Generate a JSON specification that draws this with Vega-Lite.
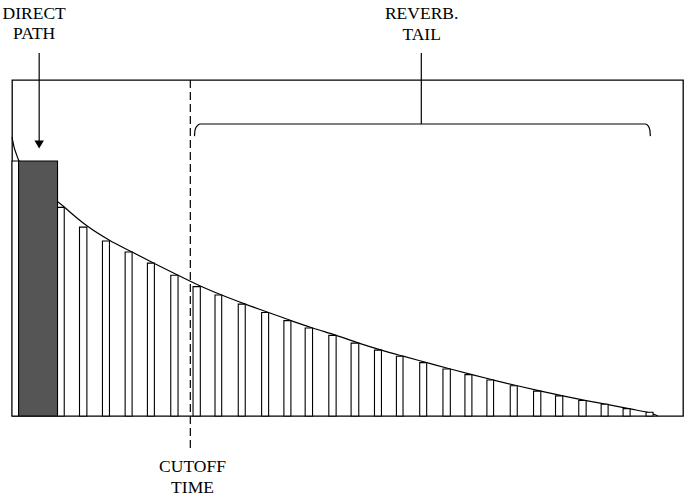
{
  "$schema": "https://vega.github.io/schema/vega-lite/v6.json",
  "width": 671,
  "height": 336,
  "autosize": {"type": "none"},
  "padding": {"left": 12, "top": 80, "right": 4, "bottom": 81},
  "background": "white",
  "config": {"view": {"stroke": "#000000", "strokeWidth": 1.3}},
  "encoding": {
    "x": {"field": "t", "type": "quantitative", "scale": {"domain": [0, 200], "nice": false, "zero": false}, "axis": null},
    "y": {"field": "a", "type": "quantitative", "scale": {"domain": [0, 100], "nice": false, "zero": false}, "axis": null}
  },
  "layer": [
    {
      "data": {"values": [
        {"t": 0, "a": 83.0}, {"t": 0.68, "a": 79.8}, {"t": 1.28, "a": 78.0}, {"t": 1.96, "a": 76.2},
        {"t": 15.57, "a": 62.2},
        {"t": 22.32, "a": 56.6}, {"t": 29.05, "a": 52.3}, {"t": 35.8, "a": 48.8}, {"t": 42.44, "a": 45.4},
        {"t": 49.49, "a": 41.9}, {"t": 56.13, "a": 38.7}, {"t": 62.5, "a": 36.0},
        {"t": 69.52, "a": 33.3}, {"t": 76.49, "a": 30.8}, {"t": 83.13, "a": 28.4}, {"t": 89.58, "a": 26.2},
        {"t": 96.61, "a": 24.0}, {"t": 103.36, "a": 21.7}, {"t": 110.12, "a": 19.6}, {"t": 116.55, "a": 17.8},
        {"t": 123.6, "a": 15.9}, {"t": 130.65, "a": 14.0}, {"t": 137.08, "a": 12.3}, {"t": 143.54, "a": 10.7},
        {"t": 150.6, "a": 9.0}, {"t": 157.62, "a": 7.4}, {"t": 164.17, "a": 6.0}, {"t": 171.13, "a": 4.6},
        {"t": 177.68, "a": 3.4}, {"t": 184.23, "a": 2.1}, {"t": 191.07, "a": 0.6}, {"t": 192.5, "a": 0}
      ]},
      "mark": {"type": "line", "stroke": "#000000", "strokeWidth": 1.2, "interpolate": "monotone", "clip": false}
    },
    {
      "data": {"values": [
        {"t": 0, "t2": 1.96, "a": 75.9, "kind": "reflection"},
        {"t": 1.96, "t2": 13.57, "a": 75.9, "kind": "direct"},
        {"t": 13.57, "t2": 15.57, "a": 62.1, "kind": "reflection"},
        {"t": 20.12, "t2": 22.32, "a": 56.2, "kind": "reflection"},
        {"t": 26.96, "t2": 29.05, "a": 52.1, "kind": "reflection"},
        {"t": 33.72, "t2": 35.80, "a": 48.8, "kind": "reflection"},
        {"t": 40.36, "t2": 42.44, "a": 45.5, "kind": "reflection"},
        {"t": 47.32, "t2": 49.49, "a": 41.9, "kind": "reflection"},
        {"t": 53.96, "t2": 56.13, "a": 38.5, "kind": "reflection"},
        {"t": 60.51, "t2": 62.5, "a": 36.0, "kind": "reflection"},
        {"t": 67.44, "t2": 69.52, "a": 33.3, "kind": "reflection"},
        {"t": 74.40, "t2": 76.49, "a": 30.8, "kind": "reflection"},
        {"t": 81.04, "t2": 83.13, "a": 28.4, "kind": "reflection"},
        {"t": 87.38, "t2": 89.58, "a": 26.2, "kind": "reflection"},
        {"t": 94.43, "t2": 96.61, "a": 24.0, "kind": "reflection"},
        {"t": 101.07, "t2": 103.36, "a": 21.7, "kind": "reflection"},
        {"t": 108.04, "t2": 110.12, "a": 19.6, "kind": "reflection"},
        {"t": 114.58, "t2": 116.55, "a": 17.8, "kind": "reflection"},
        {"t": 121.52, "t2": 123.60, "a": 15.9, "kind": "reflection"},
        {"t": 128.45, "t2": 130.65, "a": 14.0, "kind": "reflection"},
        {"t": 135.0, "t2": 137.08, "a": 12.3, "kind": "reflection"},
        {"t": 141.55, "t2": 143.54, "a": 10.7, "kind": "reflection"},
        {"t": 148.51, "t2": 150.6, "a": 9.0, "kind": "reflection"},
        {"t": 155.45, "t2": 157.62, "a": 7.4, "kind": "reflection"},
        {"t": 162.0, "t2": 164.17, "a": 6.0, "kind": "reflection"},
        {"t": 168.93, "t2": 171.13, "a": 4.6, "kind": "reflection"},
        {"t": 175.6, "t2": 177.68, "a": 3.5, "kind": "reflection"},
        {"t": 182.14, "t2": 184.23, "a": 2.2, "kind": "reflection"},
        {"t": 188.99, "t2": 191.07, "a": 1.1, "kind": "reflection"}
      ]},
      "mark": {"type": "bar", "stroke": "#000000", "strokeWidth": 1.1, "clip": false},
      "encoding": {
        "x2": {"field": "t2"},
        "y2": {"datum": 0},
        "fill": {"field": "kind", "type": "nominal", "scale": {"domain": ["direct", "reflection"], "range": ["#555555", "#ffffff"]}, "legend": null}
      }
    },
    {
      "data": {"values": [{"t": 53.15, "a": 100, "a2": -10.1}]},
      "mark": {"type": "rule", "stroke": "#000000", "strokeWidth": 1.2, "strokeDash": [8, 4], "clip": false},
      "encoding": {"y2": {"field": "a2"}}
    },
    {
      "data": {"values": [
        {"t": 54.4, "a": 83.3, "o": 1}, {"t": 54.55, "a": 85.1, "o": 2}, {"t": 55.15, "a": 86.3, "o": 3},
        {"t": 56.07, "a": 86.9, "o": 4}, {"t": 188.78, "a": 86.9, "o": 5}, {"t": 189.67, "a": 86.3, "o": 6},
        {"t": 190.12, "a": 85.1, "o": 7}, {"t": 190.27, "a": 83.3, "o": 8}
      ]},
      "mark": {"type": "line", "stroke": "#000000", "strokeWidth": 1.2, "interpolate": "monotone", "clip": false},
      "encoding": {"order": {"field": "o", "type": "quantitative"}}
    },
    {
      "data": {"values": [{"t": 122.0, "a": 108.0, "a2": 86.9}, {"t": 8.1, "a": 108.0, "a2": 81.5}]},
      "mark": {"type": "rule", "stroke": "#000000", "strokeWidth": 1.2, "clip": false},
      "encoding": {"y2": {"field": "a2"}}
    },
    {
      "data": {"values": [{"t": 8.1, "a": 80.8}]},
      "mark": {"type": "point", "shape": "triangle-down", "filled": true, "fill": "#000000", "size": 90, "opacity": 1, "clip": false}
    },
    {
      "data": {"values": [
        {"t": 6.6, "a": 118.2, "label": "DIRECT"},
        {"t": 6.6, "a": 112.2, "label": "PATH"},
        {"t": 122.1, "a": 118.2, "label": "REVERB."},
        {"t": 122.1, "a": 111.9, "label": "TAIL"},
        {"t": 53.8, "a": -16.6, "label": "CUTOFF"},
        {"t": 53.8, "a": -23.0, "label": "TIME"}
      ]},
      "mark": {"type": "text", "font": "Liberation Serif, Times New Roman, DejaVu Serif, serif", "fontSize": 17.5, "align": "center", "baseline": "alphabetic", "fill": "#000000", "clip": false},
      "encoding": {"text": {"field": "label"}}
    }
  ]
}
